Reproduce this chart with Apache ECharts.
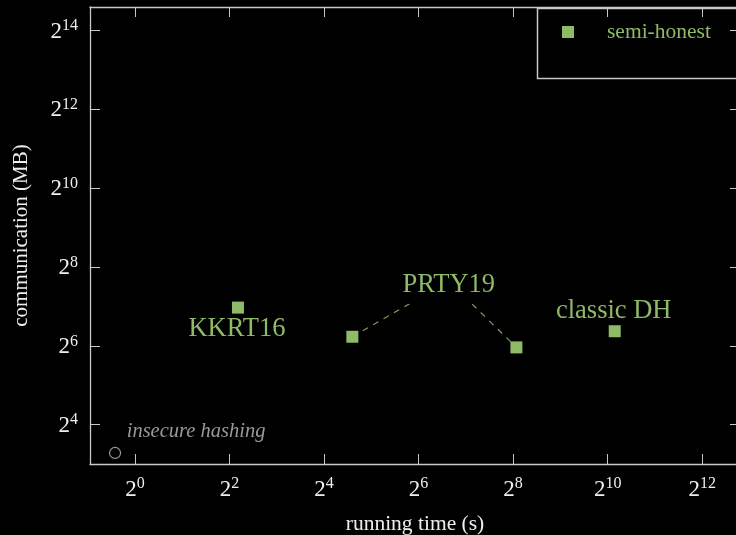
<!DOCTYPE html>
<html>
<head>
<meta charset="utf-8">
<script src="https://cdn.jsdelivr.net/npm/echarts@6/dist/echarts.min.js"></script>
<style>html,body{margin:0;padding:0;background:#000;}#c{width:736px;height:535px;}</style>
</head>
<body>
<div id="c"></div>
<script>
// values are log2 of the plotted quantity
const semiNames = ['KKRT16', 'PRTY19', 'PRTY19', 'classic DH'];
const semiTimeLog2 = [2.18, 4.60, 8.07, 10.15];
const semiCommLog2 = [6.97, 6.23, 5.96, 6.37];
const prtyPeak = [6.64, 7.64];
const insecureTimeLog2 = [-0.42];
const insecureCommLog2 = [3.28];
const xTicks = [0, 2, 4, 6, 8, 10, 12];
const yTicks = [4, 6, 8, 10, 12, 14];

const FONT = '"Liberation Serif", "DejaVu Serif", serif';
const GREEN = '#8fba66';
const AXIS = '#c8c8c8';

const pow = v => '{b|2}{s|' + v + '}';
const rich = {
  b: {fontSize: 23, fontFamily: FONT, color: '#eeeeee', verticalAlign: 'bottom', lineHeight: 25},
  s: {fontSize: 16, fontFamily: FONT, color: '#eeeeee', verticalAlign: 'top', lineHeight: 25}
};

const chart = echarts.init(document.getElementById('c'));

const semiData = semiTimeLog2.map((x, i) => {
  const item = {value: [x, semiCommLog2[i]], name: semiNames[i]};
  if (semiNames[i] === 'KKRT16') {
    item.label = {show: true, position: 'bottom', distance: 2, offset: [-1, 0], formatter: '{b}'};
  } else if (semiNames[i] === 'classic DH') {
    item.label = {show: true, position: 'top', distance: 1, offset: [-1, 0], formatter: '{b}'};
  }
  return item;
});

const labelFont = {color: GREEN, fontFamily: FONT, fontSize: 26.5, opacity: 1};

chart.setOption({
  backgroundColor: '#000',
  animation: false,
  grid: {left: 90, right: -4, top: 7, bottom: 71, outerBoundsMode: 'none', containLabel: false},
  legend: {
    data: ['semi-honest'],
    left: 557, top: 16,
    icon: 'rect', itemWidth: 12, itemHeight: 12,
    itemStyle: {color: GREEN, opacity: 1},
    textStyle: {color: GREEN, fontFamily: FONT, fontSize: 21.5, padding: [0, 0, 0, 28]}
  },
  graphic: [{
    type: 'rect', left: 535, top: 6,
    shape: {width: 220, height: 70},
    style: {fill: 'none', stroke: AXIS, lineWidth: 1.5},
    z: 10
  }],
  xAxis: [{
    type: 'value', min: -0.95, max: 12.8,
    name: 'running time (s)', nameLocation: 'middle', nameGap: 49,
    nameTextStyle: {color: '#eeeeee', fontFamily: FONT, fontSize: 21.5},
    axisLine: {show: true, onZero: false, lineStyle: {color: AXIS, width: 1.3}},
    axisTick: {show: true, inside: true, length: 10, customValues: xTicks, lineStyle: {color: AXIS}},
    axisLabel: {customValues: xTicks, formatter: pow, rich: rich, margin: 12},
    splitLine: {show: false}
  }, {
    type: 'value', min: -0.95, max: 12.8, position: 'top',
    axisLine: {show: true, onZero: false, lineStyle: {color: AXIS, width: 1.3}},
    axisTick: {show: true, inside: true, length: 10, customValues: xTicks, lineStyle: {color: AXIS}},
    axisLabel: {show: false},
    splitLine: {show: false}
  }],
  yAxis: [{
    type: 'value', min: 3, max: 14.6,
    name: 'communication (MB)', nameLocation: 'middle', nameGap: 58,
    nameTextStyle: {color: '#eeeeee', fontFamily: FONT, fontSize: 21},
    axisLine: {show: true, onZero: false, lineStyle: {color: AXIS, width: 1.3}},
    axisTick: {show: true, inside: true, length: 10, customValues: yTicks, lineStyle: {color: AXIS}},
    axisLabel: {customValues: yTicks, formatter: pow, rich: rich, margin: 12},
    splitLine: {show: false}
  }, {
    type: 'value', min: 3, max: 14.6, position: 'right',
    axisLine: {show: true, onZero: false, lineStyle: {color: AXIS, width: 1.3}},
    axisTick: {show: true, inside: true, length: 10, customValues: yTicks, lineStyle: {color: AXIS}},
    axisLabel: {show: false},
    splitLine: {show: false}
  }],
  series: [{
    name: 'PRTY19 link',
    type: 'line',
    z: 1,
    symbol: 'none',
    data: [
      [semiTimeLog2[1], semiCommLog2[1]],
      prtyPeak,
      [semiTimeLog2[2], semiCommLog2[2]]
    ],
    lineStyle: {color: '#7f9f5e', width: 1.2, type: [6, 6]},
    silent: true
  }, {
    name: 'PRTY19 label',
    type: 'scatter',
    z: 2,
    symbolSize: 0,
    silent: true,
    label: Object.assign({show: true, position: 'inside', formatter: 'PRTY19', offset: [0, 4],
            backgroundColor: '#000', padding: [7, 4, 3, 4]}, labelFont),
    data: [prtyPeak]
  }, {
    name: 'semi-honest',
    type: 'scatter',
    z: 3,
    symbol: 'rect',
    symbolSize: 12,
    itemStyle: {color: GREEN, opacity: 1},
    label: labelFont,
    data: semiData
  }, {
    name: 'insecure hashing',
    type: 'scatter',
    symbol: 'circle',
    symbolSize: 11,
    itemStyle: {color: 'rgba(0,0,0,0)', borderColor: '#999999', borderWidth: 1.2, opacity: 1},
    label: {show: true, position: 'top', distance: 5, offset: [81, 0], formatter: 'insecure hashing',
            color: '#999999', fontFamily: FONT, fontSize: 20.5, fontStyle: 'italic'},
    data: insecureTimeLog2.map((x, i) => [x, insecureCommLog2[i]])
  }]
});
</script>
</body>
</html>
